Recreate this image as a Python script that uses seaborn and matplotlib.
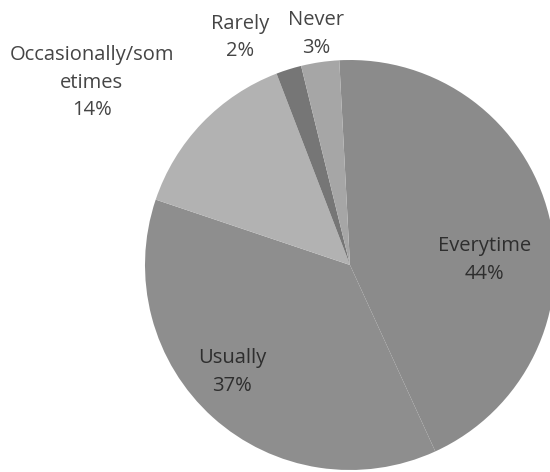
import matplotlib
matplotlib.use("Agg")
import matplotlib.pyplot as plt
import seaborn as sns

# survey answers, clockwise from the top
categories = ["Everytime", "Usually", "Occasionally/som\netimes", "Rarely", "Never"]
shares = [44, 37, 14, 2, 3]

colors = ["#8b8b8b", "#8e8e8e", "#b2b2b2", "#767676", "#a6a6a6"]

sns.set_theme(style="white")
plt.rcParams["font.family"] = ["Open Sans", "DejaVu Sans"]

fig = plt.figure(figsize=(5.5, 4.72), dpi=100)
ax = fig.add_axes([0, 0, 1, 1])

wedges, _ = ax.pie(shares, colors=colors, startangle=93, counterclock=False,
                   radius=1.0, wedgeprops=dict(linewidth=0))

# label spots (data units, pie radius = 1)
label_pos = [(0.654, 0.024), (-0.576, -0.522), (-1.259, 0.89),
             (-0.537, 1.11), (-0.166, 1.128)]
inside = [True, True, False, False, False]
for name, val, (x, y), ins in zip(categories, shares, label_pos, inside):
    ax.text(x, y, f"{name}\n{val}%", ha="center", va="center",
            fontsize=14.5, linespacing=1.5,
            color="#2e2e2e" if ins else "#454545")

ax.set_xlim(-350 / 205, 200 / 205)
ax.set_ylim((265 - 472) / 205, 265 / 205)
ax.set_aspect("equal")
ax.axis("off")

fig.savefig("out.png", dpi=100)
